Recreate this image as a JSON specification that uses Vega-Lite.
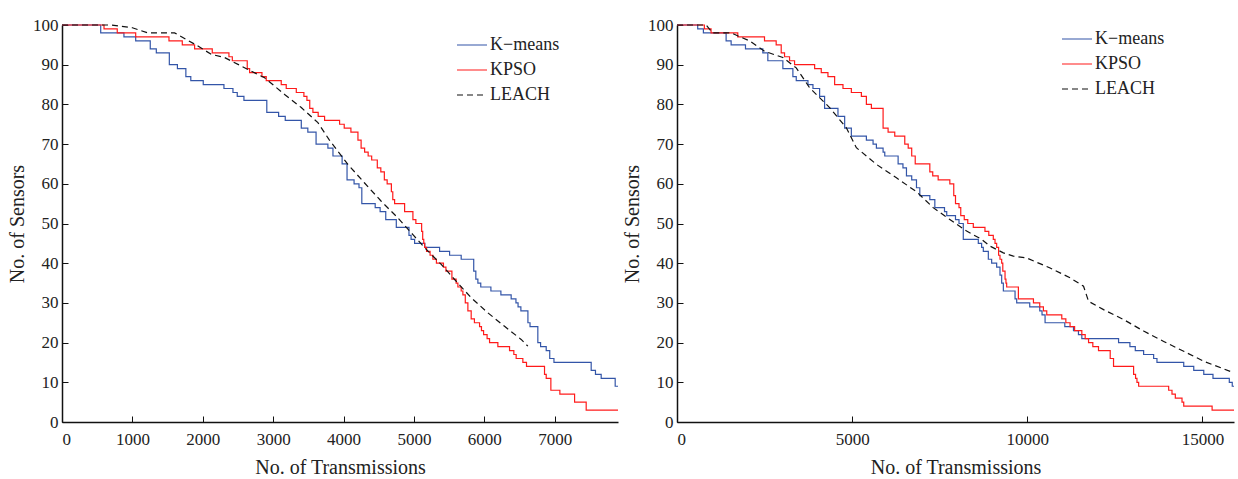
{
  "$schema": "https://vega.github.io/schema/vega-lite/v6.json",
  "padding": {"left": 7, "top": 16, "right": 0, "bottom": 0},
  "background": "white",
  "spacing": 1,
  "config": {
    "view": {"stroke": null},
    "font": "Liberation Serif",
    "axis": {
      "labelFont": "Liberation Serif", "labelFontSize": 17, "labelColor": "#222",
      "titleFont": "Liberation Serif", "titleFontSize": 20, "titleFontWeight": "normal", "titleColor": "#222",
      "domainColor": "#111", "domainWidth": 1.5, "tickColor": "#111", "tickSize": -6, "grid": false
    },
    "axisX": {"labelPadding": 15},
    "axisY": {"labelPadding": 10},
    "legend": {
      "labelFont": "Liberation Serif", "labelFontSize": 18, "labelColor": "#222",
      "symbolType": "stroke", "symbolSize": 900, "symbolStrokeWidth": 1.3, "rowPadding": -6, "labelOffset": 2, "title": null
    },
    "line": {"strokeWidth": 1.2}
  },
  "datasets": {
    "left": [
      {"series": "K−means", "x": 0, "y": 100}, {"series": "K−means", "x": 550, "y": 98}, {"series": "K−means", "x": 880, "y": 97}, {"series": "K−means", "x": 1047, "y": 96}, {"series": "K−means", "x": 1254, "y": 94}, {"series": "K−means", "x": 1340, "y": 93}, {"series": "K−means", "x": 1525, "y": 90}, {"series": "K−means", "x": 1640, "y": 89}, {"series": "K−means", "x": 1760, "y": 87}, {"series": "K−means", "x": 1830, "y": 86}, {"series": "K−means", "x": 2007, "y": 85}, {"series": "K−means", "x": 2301, "y": 84}, {"series": "K−means", "x": 2429, "y": 83}, {"series": "K−means", "x": 2490, "y": 82}, {"series": "K−means", "x": 2585, "y": 81}, {"series": "K−means", "x": 2910, "y": 78}, {"series": "K−means", "x": 3078, "y": 77}, {"series": "K−means", "x": 3172, "y": 76}, {"series": "K−means", "x": 3400, "y": 74}, {"series": "K−means", "x": 3493, "y": 73}, {"series": "K−means", "x": 3610, "y": 70}, {"series": "K−means", "x": 3778, "y": 69}, {"series": "K−means", "x": 3850, "y": 67}, {"series": "K−means", "x": 3980, "y": 65}, {"series": "K−means", "x": 4050, "y": 61}, {"series": "K−means", "x": 4150, "y": 60}, {"series": "K−means", "x": 4220, "y": 59}, {"series": "K−means", "x": 4260, "y": 55}, {"series": "K−means", "x": 4450, "y": 54}, {"series": "K−means", "x": 4520, "y": 53}, {"series": "K−means", "x": 4600, "y": 51}, {"series": "K−means", "x": 4750, "y": 49}, {"series": "K−means", "x": 4930, "y": 47}, {"series": "K−means", "x": 4960, "y": 46}, {"series": "K−means", "x": 5010, "y": 45}, {"series": "K−means", "x": 5155, "y": 44}, {"series": "K−means", "x": 5365, "y": 43}, {"series": "K−means", "x": 5507, "y": 42}, {"series": "K−means", "x": 5672, "y": 41}, {"series": "K−means", "x": 5850, "y": 38}, {"series": "K−means", "x": 5880, "y": 36}, {"series": "K−means", "x": 5909, "y": 35}, {"series": "K−means", "x": 5950, "y": 34}, {"series": "K−means", "x": 6094, "y": 33}, {"series": "K−means", "x": 6236, "y": 32}, {"series": "K−means", "x": 6382, "y": 31}, {"series": "K−means", "x": 6450, "y": 30}, {"series": "K−means", "x": 6480, "y": 29}, {"series": "K−means", "x": 6520, "y": 28}, {"series": "K−means", "x": 6620, "y": 25}, {"series": "K−means", "x": 6650, "y": 24}, {"series": "K−means", "x": 6761, "y": 20}, {"series": "K−means", "x": 6800, "y": 19}, {"series": "K−means", "x": 6880, "y": 18}, {"series": "K−means", "x": 6930, "y": 16}, {"series": "K−means", "x": 6990, "y": 15}, {"series": "K−means", "x": 7519, "y": 13}, {"series": "K−means", "x": 7580, "y": 12}, {"series": "K−means", "x": 7661, "y": 11}, {"series": "K−means", "x": 7860, "y": 9}, {"series": "K−means", "x": 7900, "y": 9},
      {"series": "KPSO", "x": 0, "y": 100}, {"series": "KPSO", "x": 597, "y": 99}, {"series": "KPSO", "x": 785, "y": 98}, {"series": "KPSO", "x": 1047, "y": 97}, {"series": "KPSO", "x": 1520, "y": 96}, {"series": "KPSO", "x": 1709, "y": 95}, {"series": "KPSO", "x": 1884, "y": 94}, {"series": "KPSO", "x": 2135, "y": 93}, {"series": "KPSO", "x": 2372, "y": 92}, {"series": "KPSO", "x": 2420, "y": 91}, {"series": "KPSO", "x": 2632, "y": 89}, {"series": "KPSO", "x": 2666, "y": 88}, {"series": "KPSO", "x": 2841, "y": 87}, {"series": "KPSO", "x": 2902, "y": 86}, {"series": "KPSO", "x": 3115, "y": 85}, {"series": "KPSO", "x": 3186, "y": 84}, {"series": "KPSO", "x": 3329, "y": 83}, {"series": "KPSO", "x": 3437, "y": 82}, {"series": "KPSO", "x": 3480, "y": 81}, {"series": "KPSO", "x": 3520, "y": 79}, {"series": "KPSO", "x": 3565, "y": 78}, {"series": "KPSO", "x": 3640, "y": 77}, {"series": "KPSO", "x": 3731, "y": 76}, {"series": "KPSO", "x": 3944, "y": 75}, {"series": "KPSO", "x": 4010, "y": 74}, {"series": "KPSO", "x": 4105, "y": 73}, {"series": "KPSO", "x": 4205, "y": 71}, {"series": "KPSO", "x": 4250, "y": 69}, {"series": "KPSO", "x": 4300, "y": 68}, {"series": "KPSO", "x": 4350, "y": 67}, {"series": "KPSO", "x": 4400, "y": 66}, {"series": "KPSO", "x": 4480, "y": 64}, {"series": "KPSO", "x": 4530, "y": 63}, {"series": "KPSO", "x": 4580, "y": 61}, {"series": "KPSO", "x": 4620, "y": 60}, {"series": "KPSO", "x": 4680, "y": 58}, {"series": "KPSO", "x": 4700, "y": 56}, {"series": "KPSO", "x": 4726, "y": 55}, {"series": "KPSO", "x": 4868, "y": 53}, {"series": "KPSO", "x": 4986, "y": 51}, {"series": "KPSO", "x": 5028, "y": 50}, {"series": "KPSO", "x": 5110, "y": 48}, {"series": "KPSO", "x": 5125, "y": 46}, {"series": "KPSO", "x": 5140, "y": 45}, {"series": "KPSO", "x": 5152, "y": 44}, {"series": "KPSO", "x": 5180, "y": 43}, {"series": "KPSO", "x": 5230, "y": 42}, {"series": "KPSO", "x": 5270, "y": 41}, {"series": "KPSO", "x": 5320, "y": 40}, {"series": "KPSO", "x": 5420, "y": 39}, {"series": "KPSO", "x": 5455, "y": 38}, {"series": "KPSO", "x": 5540, "y": 36}, {"series": "KPSO", "x": 5600, "y": 35}, {"series": "KPSO", "x": 5625, "y": 34}, {"series": "KPSO", "x": 5672, "y": 33}, {"series": "KPSO", "x": 5696, "y": 32}, {"series": "KPSO", "x": 5730, "y": 30}, {"series": "KPSO", "x": 5767, "y": 28}, {"series": "KPSO", "x": 5814, "y": 26}, {"series": "KPSO", "x": 5860, "y": 25}, {"series": "KPSO", "x": 5933, "y": 24}, {"series": "KPSO", "x": 5960, "y": 23}, {"series": "KPSO", "x": 5990, "y": 22}, {"series": "KPSO", "x": 6040, "y": 21}, {"series": "KPSO", "x": 6075, "y": 20}, {"series": "KPSO", "x": 6193, "y": 19}, {"series": "KPSO", "x": 6359, "y": 18}, {"series": "KPSO", "x": 6420, "y": 17}, {"series": "KPSO", "x": 6453, "y": 16}, {"series": "KPSO", "x": 6548, "y": 15}, {"series": "KPSO", "x": 6600, "y": 14}, {"series": "KPSO", "x": 6856, "y": 12}, {"series": "KPSO", "x": 6880, "y": 11}, {"series": "KPSO", "x": 6946, "y": 8}, {"series": "KPSO", "x": 7074, "y": 7}, {"series": "KPSO", "x": 7283, "y": 5}, {"series": "KPSO", "x": 7448, "y": 3}, {"series": "KPSO", "x": 7900, "y": 3},
      {"series": "LEACH", "x": 0, "y": 100}, {"series": "LEACH", "x": 700, "y": 100}, {"series": "LEACH", "x": 1000, "y": 99.3}, {"series": "LEACH", "x": 1220, "y": 98}, {"series": "LEACH", "x": 1600, "y": 98}, {"series": "LEACH", "x": 1932, "y": 94.7}, {"series": "LEACH", "x": 2121, "y": 92.6}, {"series": "LEACH", "x": 2311, "y": 91.8}, {"series": "LEACH", "x": 2642, "y": 88.8}, {"series": "LEACH", "x": 2879, "y": 86.7}, {"series": "LEACH", "x": 3163, "y": 82.5}, {"series": "LEACH", "x": 3400, "y": 79.2}, {"series": "LEACH", "x": 3636, "y": 75.4}, {"series": "LEACH", "x": 3800, "y": 71}, {"series": "LEACH", "x": 4062, "y": 64.9}, {"series": "LEACH", "x": 4299, "y": 60.2}, {"series": "LEACH", "x": 4536, "y": 55.6}, {"series": "LEACH", "x": 4773, "y": 51.4}, {"series": "LEACH", "x": 4986, "y": 47.2}, {"series": "LEACH", "x": 5152, "y": 43.9}, {"series": "LEACH", "x": 5388, "y": 39.7}, {"series": "LEACH", "x": 5578, "y": 35.9}, {"series": "LEACH", "x": 5814, "y": 31.3}, {"series": "LEACH", "x": 6051, "y": 27.5}, {"series": "LEACH", "x": 6288, "y": 24.1}, {"series": "LEACH", "x": 6524, "y": 20.8}, {"series": "LEACH", "x": 6619, "y": 19.1}
    ],
    "right": [
      {"series": "K−means", "x": 0, "y": 100}, {"series": "K−means", "x": 591, "y": 99}, {"series": "K−means", "x": 753, "y": 98}, {"series": "K−means", "x": 1402, "y": 96}, {"series": "K−means", "x": 1545, "y": 95}, {"series": "K−means", "x": 1955, "y": 94}, {"series": "K−means", "x": 2450, "y": 93}, {"series": "K−means", "x": 2593, "y": 91}, {"series": "K−means", "x": 3022, "y": 89}, {"series": "K−means", "x": 3308, "y": 87}, {"series": "K−means", "x": 3404, "y": 86}, {"series": "K−means", "x": 3738, "y": 85}, {"series": "K−means", "x": 3881, "y": 84}, {"series": "K−means", "x": 4071, "y": 82}, {"series": "K−means", "x": 4213, "y": 79}, {"series": "K−means", "x": 4595, "y": 77}, {"series": "K−means", "x": 4786, "y": 74}, {"series": "K−means", "x": 4977, "y": 72}, {"series": "K−means", "x": 5406, "y": 71}, {"series": "K−means", "x": 5597, "y": 70}, {"series": "K−means", "x": 5692, "y": 69}, {"series": "K−means", "x": 5883, "y": 68}, {"series": "K−means", "x": 5931, "y": 67}, {"series": "K−means", "x": 6312, "y": 65}, {"series": "K−means", "x": 6450, "y": 64}, {"series": "K−means", "x": 6550, "y": 62}, {"series": "K−means", "x": 6700, "y": 61}, {"series": "K−means", "x": 6836, "y": 59}, {"series": "K−means", "x": 6931, "y": 57}, {"series": "K−means", "x": 7217, "y": 56}, {"series": "K−means", "x": 7360, "y": 54}, {"series": "K−means", "x": 7636, "y": 53}, {"series": "K−means", "x": 7700, "y": 52}, {"series": "K−means", "x": 7950, "y": 51}, {"series": "K−means", "x": 8050, "y": 50}, {"series": "K−means", "x": 8172, "y": 46}, {"series": "K−means", "x": 8601, "y": 45}, {"series": "K−means", "x": 8696, "y": 44}, {"series": "K−means", "x": 8744, "y": 43}, {"series": "K−means", "x": 8887, "y": 41}, {"series": "K−means", "x": 8982, "y": 40}, {"series": "K−means", "x": 9125, "y": 39}, {"series": "K−means", "x": 9220, "y": 37}, {"series": "K−means", "x": 9268, "y": 35}, {"series": "K−means", "x": 9316, "y": 33}, {"series": "K−means", "x": 9650, "y": 31}, {"series": "K−means", "x": 9697, "y": 30}, {"series": "K−means", "x": 10069, "y": 29}, {"series": "K−means", "x": 10355, "y": 28}, {"series": "K−means", "x": 10420, "y": 27}, {"series": "K−means", "x": 10507, "y": 25}, {"series": "K−means", "x": 11070, "y": 24}, {"series": "K−means", "x": 11318, "y": 23}, {"series": "K−means", "x": 11460, "y": 22}, {"series": "K−means", "x": 11556, "y": 21}, {"series": "K−means", "x": 12605, "y": 20}, {"series": "K−means", "x": 12929, "y": 19}, {"series": "K−means", "x": 13082, "y": 18}, {"series": "K−means", "x": 13320, "y": 17}, {"series": "K−means", "x": 13606, "y": 16}, {"series": "K−means", "x": 13701, "y": 15}, {"series": "K−means", "x": 14465, "y": 14}, {"series": "K−means", "x": 14751, "y": 13}, {"series": "K−means", "x": 15037, "y": 12}, {"series": "K−means", "x": 15300, "y": 11}, {"series": "K−means", "x": 15766, "y": 10}, {"series": "K−means", "x": 15850, "y": 9}, {"series": "K−means", "x": 15900, "y": 9},
      {"series": "KPSO", "x": 0, "y": 100}, {"series": "KPSO", "x": 781, "y": 99}, {"series": "KPSO", "x": 972, "y": 98}, {"series": "KPSO", "x": 1735, "y": 97}, {"series": "KPSO", "x": 2498, "y": 96}, {"series": "KPSO", "x": 2831, "y": 95}, {"series": "KPSO", "x": 2975, "y": 93}, {"series": "KPSO", "x": 3070, "y": 92}, {"series": "KPSO", "x": 3213, "y": 91}, {"series": "KPSO", "x": 3356, "y": 90}, {"series": "KPSO", "x": 3929, "y": 89}, {"series": "KPSO", "x": 4118, "y": 88}, {"series": "KPSO", "x": 4309, "y": 87}, {"series": "KPSO", "x": 4500, "y": 85}, {"series": "KPSO", "x": 4738, "y": 84}, {"series": "KPSO", "x": 4977, "y": 83}, {"series": "KPSO", "x": 5263, "y": 82}, {"series": "KPSO", "x": 5406, "y": 80}, {"series": "KPSO", "x": 5549, "y": 79}, {"series": "KPSO", "x": 5883, "y": 74}, {"series": "KPSO", "x": 6026, "y": 73}, {"series": "KPSO", "x": 6216, "y": 72}, {"series": "KPSO", "x": 6502, "y": 70}, {"series": "KPSO", "x": 6600, "y": 69}, {"series": "KPSO", "x": 6700, "y": 67}, {"series": "KPSO", "x": 6800, "y": 65}, {"series": "KPSO", "x": 7217, "y": 63}, {"series": "KPSO", "x": 7300, "y": 62}, {"series": "KPSO", "x": 7455, "y": 61}, {"series": "KPSO", "x": 7788, "y": 60}, {"series": "KPSO", "x": 7900, "y": 57}, {"series": "KPSO", "x": 7950, "y": 55}, {"series": "KPSO", "x": 8050, "y": 54}, {"series": "KPSO", "x": 8100, "y": 52}, {"series": "KPSO", "x": 8200, "y": 51}, {"series": "KPSO", "x": 8300, "y": 50}, {"series": "KPSO", "x": 8458, "y": 49}, {"series": "KPSO", "x": 8791, "y": 48}, {"series": "KPSO", "x": 8900, "y": 47}, {"series": "KPSO", "x": 9029, "y": 46}, {"series": "KPSO", "x": 9078, "y": 45}, {"series": "KPSO", "x": 9125, "y": 44}, {"series": "KPSO", "x": 9180, "y": 42}, {"series": "KPSO", "x": 9220, "y": 41}, {"series": "KPSO", "x": 9268, "y": 40}, {"series": "KPSO", "x": 9300, "y": 38}, {"series": "KPSO", "x": 9364, "y": 36}, {"series": "KPSO", "x": 9390, "y": 35}, {"series": "KPSO", "x": 9411, "y": 34}, {"series": "KPSO", "x": 9745, "y": 31}, {"series": "KPSO", "x": 10175, "y": 30}, {"series": "KPSO", "x": 10355, "y": 29}, {"series": "KPSO", "x": 10460, "y": 28}, {"series": "KPSO", "x": 10555, "y": 27}, {"series": "KPSO", "x": 10984, "y": 26}, {"series": "KPSO", "x": 11100, "y": 25}, {"series": "KPSO", "x": 11220, "y": 24}, {"series": "KPSO", "x": 11350, "y": 23}, {"series": "KPSO", "x": 11556, "y": 22}, {"series": "KPSO", "x": 11652, "y": 21}, {"series": "KPSO", "x": 11748, "y": 20}, {"series": "KPSO", "x": 11870, "y": 19}, {"series": "KPSO", "x": 12032, "y": 18}, {"series": "KPSO", "x": 12366, "y": 16}, {"series": "KPSO", "x": 12461, "y": 14}, {"series": "KPSO", "x": 13034, "y": 12}, {"series": "KPSO", "x": 13090, "y": 11}, {"series": "KPSO", "x": 13130, "y": 10}, {"series": "KPSO", "x": 13178, "y": 9}, {"series": "KPSO", "x": 14035, "y": 8}, {"series": "KPSO", "x": 14130, "y": 7}, {"series": "KPSO", "x": 14225, "y": 6}, {"series": "KPSO", "x": 14416, "y": 5}, {"series": "KPSO", "x": 14465, "y": 4}, {"series": "KPSO", "x": 15275, "y": 3}, {"series": "KPSO", "x": 15900, "y": 3},
      {"series": "LEACH", "x": 0, "y": 100}, {"series": "LEACH", "x": 830, "y": 100}, {"series": "LEACH", "x": 1021, "y": 98}, {"series": "LEACH", "x": 1545, "y": 98}, {"series": "LEACH", "x": 2069, "y": 96}, {"series": "LEACH", "x": 2497, "y": 93.4}, {"series": "LEACH", "x": 3022, "y": 91.8}, {"series": "LEACH", "x": 3404, "y": 89.2}, {"series": "LEACH", "x": 3785, "y": 84.2}, {"series": "LEACH", "x": 4357, "y": 79.2}, {"series": "LEACH", "x": 4834, "y": 74.1}, {"series": "LEACH", "x": 5120, "y": 69.1}, {"series": "LEACH", "x": 5692, "y": 64.9}, {"series": "LEACH", "x": 6264, "y": 61.5}, {"series": "LEACH", "x": 6836, "y": 58}, {"series": "LEACH", "x": 7312, "y": 54}, {"series": "LEACH", "x": 7788, "y": 51}, {"series": "LEACH", "x": 8267, "y": 48.1}, {"series": "LEACH", "x": 8696, "y": 46}, {"series": "LEACH", "x": 8935, "y": 44.3}, {"series": "LEACH", "x": 9316, "y": 42.6}, {"series": "LEACH", "x": 9602, "y": 41.8}, {"series": "LEACH", "x": 9983, "y": 41.3}, {"series": "LEACH", "x": 10651, "y": 38.8}, {"series": "LEACH", "x": 11224, "y": 36.3}, {"series": "LEACH", "x": 11605, "y": 34.2}, {"series": "LEACH", "x": 11748, "y": 30.4}, {"series": "LEACH", "x": 12177, "y": 28.3}, {"series": "LEACH", "x": 12749, "y": 25.8}, {"series": "LEACH", "x": 13321, "y": 22.9}, {"series": "LEACH", "x": 13893, "y": 20.3}, {"series": "LEACH", "x": 14465, "y": 17.8}, {"series": "LEACH", "x": 15037, "y": 15.3}, {"series": "LEACH", "x": 15895, "y": 12.4}
    ]
  },
  "hconcat": [
    {
      "width": 556, "height": 397,
      "data": {"name": "left"},
      "encoding": {
        "x": {"field": "x", "type": "quantitative", "scale": {"domain": [0, 7900], "nice": false}, "axis": {"title": "No. of Transmissions", "values": [0, 1000, 2000, 3000, 4000, 5000, 6000, 7000], "format": "d", "titlePadding": 10}},
        "y": {"field": "y", "type": "quantitative", "scale": {"domain": [0, 100], "nice": false}, "axis": {"title": "No. of Sensors", "values": [0, 10, 20, 30, 40, 50, 60, 70, 80, 90, 100], "titlePadding": 5}},
        "color": {"field": "series", "type": "nominal", "scale": {"domain": ["K−means", "KPSO", "LEACH"], "range": ["#3355a8", "#ff1a1a", "#111111"]}, "legend": {"orient": "none", "legendX": 394, "legendY": 4}},
        "strokeDash": {"field": "series", "type": "nominal", "scale": {"domain": ["K−means", "KPSO", "LEACH"], "range": [[1, 0], [1, 0], [6, 4]]}, "legend": {"orient": "none", "legendX": 394, "legendY": 4}}
      },
      "layer": [
        {"transform": [{"filter": "datum.series !== 'LEACH'"}], "mark": {"type": "line", "interpolate": "step-after"}},
        {"transform": [{"filter": "datum.series === 'LEACH'"}], "mark": {"type": "line", "interpolate": "linear"}}
      ]
    },
    {
      "width": 557, "height": 397,
      "data": {"name": "right"},
      "encoding": {
        "x": {"field": "x", "type": "quantitative", "scale": {"domain": [0, 15900], "nice": false}, "axis": {"title": "No. of Transmissions", "values": [0, 5000, 10000, 15000], "format": "d", "titlePadding": 10}},
        "y": {"field": "y", "type": "quantitative", "scale": {"domain": [0, 100], "nice": false}, "axis": {"title": "No. of Sensors", "values": [0, 10, 20, 30, 40, 50, 60, 70, 80, 90, 100], "titlePadding": 5}},
        "color": {"field": "series", "type": "nominal", "scale": {"domain": ["K−means", "KPSO", "LEACH"], "range": ["#3355a8", "#ff1a1a", "#111111"]}, "legend": {"orient": "none", "legendX": 384, "legendY": -2}},
        "strokeDash": {"field": "series", "type": "nominal", "scale": {"domain": ["K−means", "KPSO", "LEACH"], "range": [[1, 0], [1, 0], [6, 4]]}, "legend": {"orient": "none", "legendX": 384, "legendY": -2}}
      },
      "layer": [
        {"transform": [{"filter": "datum.series !== 'LEACH'"}], "mark": {"type": "line", "interpolate": "step-after"}},
        {"transform": [{"filter": "datum.series === 'LEACH'"}], "mark": {"type": "line", "interpolate": "linear"}}
      ]
    }
  ],
  "resolve": {"scale": {"color": "independent", "strokeDash": "independent", "x": "independent", "y": "independent"}, "legend": {"color": "independent", "strokeDash": "independent"}}
}
